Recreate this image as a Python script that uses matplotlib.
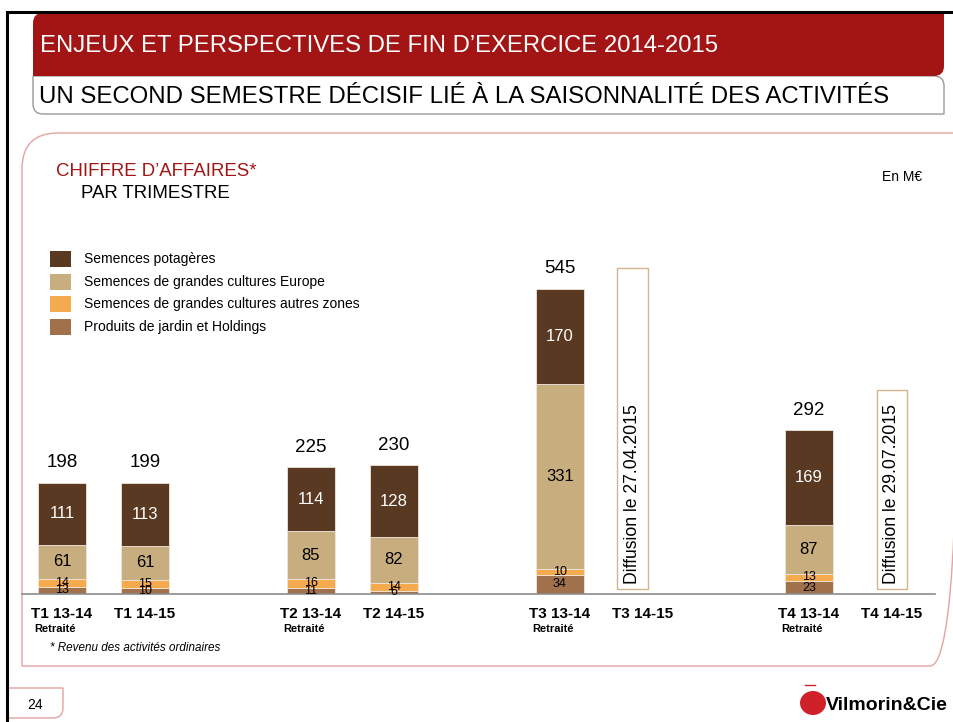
"""
Chiffre d'affaires par trimestre - stacked bars, recreated with matplotlib.
Output: out.png (954 x 722 px)
"""

import numpy as np
import matplotlib
matplotlib.use("Agg")
import matplotlib.pyplot as plt
from matplotlib.patches import Rectangle, PathPatch, Ellipse
from matplotlib.path import Path

plt.rcParams["font.family"] = ["Liberation Sans", "DejaVu Sans"]

W, H = 954, 722

# --- Data (M EUR) ------------------------------------------------------------
QUARTERS = ["T1 13-14", "T1 14-15", "T2 13-14", "T2 14-15",
            "T3 13-14", "T3 14-15", "T4 13-14", "T4 14-15"]
RESTATED = [True, False, True, False, True, False, True, False]
SERIES = ["Produits de jardin et Holdings",
          "Semences de grandes cultures autres zones",
          "Semences de grandes cultures Europe",
          "Semences potagères"]
# bars with data (index into QUARTERS)
BAR_IDX = [0, 1, 2, 3, 4, 6]
JARDIN = [13, 10, 11, 6, 34, 23]
AUTRES = [14, 15, 16, 14, 10, 13]
EUROPE = [61, 61, 85, 82, 331, 87]
POTAGERES = [111, 113, 114, 128, 170, 169]
TOTALS = [198, 199, 225, 230, 545, 292]
# quarters not yet published
PENDING_IDX = [5, 7]
PENDING_TEXT = ["Diffusion le 27.04.2015", "Diffusion le 29.07.2015"]

COLORS = ["#A0714A", "#F6AA4E", "#C8AD7F", "#5A3923"]
RED = "#A31515"
PINK = "#E3A3A3"

fig = plt.figure(figsize=(W / 100, H / 100), dpi=100)

# overlay axes in pixel coordinates for the slide decorations
bg = fig.add_axes([0, 0, 1, 1], zorder=0)
bg.set_xlim(0, W)
bg.set_ylim(H, 0)
bg.axis("off")


def rounded_box(x0, y0, x1, y1, r, corners, **kw):
    # corners = (tl, tr, br, bl) flags, y grows downwards
    tl, tr, br, bl = corners
    verts, codes = [], []

    def line(p, code=Path.LINETO):
        verts.append(p)
        codes.append(code)

    def curve(c, p):
        verts.extend([c, p])
        codes.extend([Path.CURVE3, Path.CURVE3])

    line((x0, y0 + (r if tl else 0)), Path.MOVETO)
    if tl:
        curve((x0, y0), (x0 + r, y0))
    line((x1 - (r if tr else 0), y0))
    if tr:
        curve((x1, y0), (x1, y0 + r))
    line((x1, y1 - (r if br else 0)))
    if br:
        curve((x1, y1), (x1 - r, y1))
    line((x0 + (r if bl else 0), y1))
    if bl:
        curve((x0, y1), (x0, y1 - r))
    line((x0, y0 + (r if tl else 0)))
    return PathPatch(Path(verts, codes), **kw)


# black frame lines
bg.plot([7, W], [12, 12], color="black", lw=2.2)
bg.plot([7, 7], [12, H], color="black", lw=2.2)

# title band + subtitle box
bg.add_patch(rounded_box(33, 76, 944, 114, 10, (False, True, False, True),
                         facecolor="white", edgecolor="#9A9A9A", lw=1.0))
bg.add_patch(rounded_box(33, 13, 944, 76, 10, (True, False, True, False),
                         facecolor=RED, edgecolor="none"))
bg.text(40, 46, "ENJEUX ET PERSPECTIVES DE FIN D\u2019EXERCICE 2014-2015",
        color="white", fontsize=17.2, va="center", ha="left")
bg.text(39, 97, "UN SECOND SEMESTRE DÉCISIF LIÉ À LA SAISONNALITÉ DES ACTIVITÉS",
        color="black", fontsize=17.3, va="center", ha="left")

# chart panel (right edge runs off the slide)
bg.add_patch(rounded_box(22, 133, 966, 666, 36, (True, False, True, False),
                         facecolor="none", edgecolor=PINK, lw=1.0))

# page number box
bg.add_patch(rounded_box(7, 688, 63, 718, 10, (False, False, True, False),
                         facecolor="white", edgecolor=PINK, lw=1.0))
bg.text(35, 705, "24", fontsize=10, ha="center", va="center")

# logo
bg.add_patch(Ellipse((813, 703), 26, 24, facecolor="#D0202A", edgecolor="none"))
bg.plot([805, 815], [685, 685], color="#D0202A", lw=1)
bg.text(826, 705, "Vilmorin&Cie", fontsize=14, fontweight="bold", ha="left",
        va="center")

# panel headings
bg.text(56, 172, "CHIFFRE D\u2019AFFAIRES*", color=RED, fontsize=13.4, va="center")
bg.text(81, 193, "PAR TRIMESTRE", color="black", fontsize=13.4, va="center")
bg.text(922, 177, "En M\u20ac", color="black", fontsize=10, va="center", ha="right")
bg.text(50, 648, "* Revenu des activités ordinaires", fontsize=8.4, style="italic",
        va="center")

# legend (top series first)
for k, (name, col) in enumerate(zip(SERIES[::-1], COLORS[::-1])):
    y = 259 + k * 22.7
    bg.add_patch(Rectangle((50, y - 8), 21, 16, facecolor=col, edgecolor="none"))
    bg.text(84, y, name, fontsize=10, va="center", ha="left")

# --- Chart axes --------------------------------------------------------------
PX_PER_X = 83.0
PX_PER_Y = 0.56
X0_PX, BASE_PX = 62, 594
left_px, right_px, top_px = 22, 935, 240
ax = fig.add_axes([left_px / W, 1 - BASE_PX / H,
                   (right_px - left_px) / W, (BASE_PX - top_px) / H], zorder=1)
ax.patch.set_alpha(0)
ax.set_xlim((left_px - X0_PX) / PX_PER_X, (right_px - X0_PX) / PX_PER_X)
ax.set_ylim(0, (BASE_PX - top_px) / PX_PER_Y)
for s in ["top", "right", "left"]:
    ax.spines[s].set_visible(False)
ax.spines["bottom"].set_color("#8C8C8C")
ax.spines["bottom"].set_linewidth(1.2)
ax.set_yticks([])

# x positions: 2 bars per quarter, one gap between quarters
xpos = np.array([3 * (i // 2) + (i % 2) for i in range(len(QUARTERS))], dtype=float)
ax.set_xticks(xpos)
ax.set_xticklabels(QUARTERS, fontsize=11, fontweight="bold")
ax.tick_params(axis="x", length=0, pad=9)
for x, r in zip(xpos, RESTATED):
    if r:
        ax.text(x - 0.08, -62, "Retraité", fontsize=8, fontweight="bold",
                ha="center", va="center", clip_on=False)

bx = xpos[BAR_IDX]
width = 0.57
bottom = np.zeros(len(bx))
for vals, col in zip([JARDIN, AUTRES, EUROPE, POTAGERES], COLORS):
    vals = np.array(vals, dtype=float)
    ax.bar(bx, vals, width, bottom=bottom, color=col, edgecolor="#EFE6DA",
           linewidth=0.6)
    for x, b, v in zip(bx, bottom, vals):
        small = v < 40
        ax.text(x, b + v / 2, f"{v:.0f}", ha="center", va="center",
                fontsize=9 if small else 12,
                color="white" if col == COLORS[3] else "black")
    bottom += vals

for x, top, t in zip(bx, bottom, TOTALS):
    ax.text(x, top + 36, str(t), ha="center", va="center", fontsize=13.5)

# placeholder boxes for quarters not yet published
BOX_SHIFT = [-0.13, 0.0]
BOX_HEIGHT = [573, 355]
for i, txt, sh, h in zip(PENDING_IDX, PENDING_TEXT, BOX_SHIFT, BOX_HEIGHT):
    x = xpos[i] + sh
    ax.bar(x, h, 0.37, bottom=9, color="white", edgecolor="#D2B68E", linewidth=1.0)
    ax.text(x, 18, txt, rotation=90, ha="center", va="bottom", fontsize=12.7)

fig.savefig("out.png", dpi=100)
